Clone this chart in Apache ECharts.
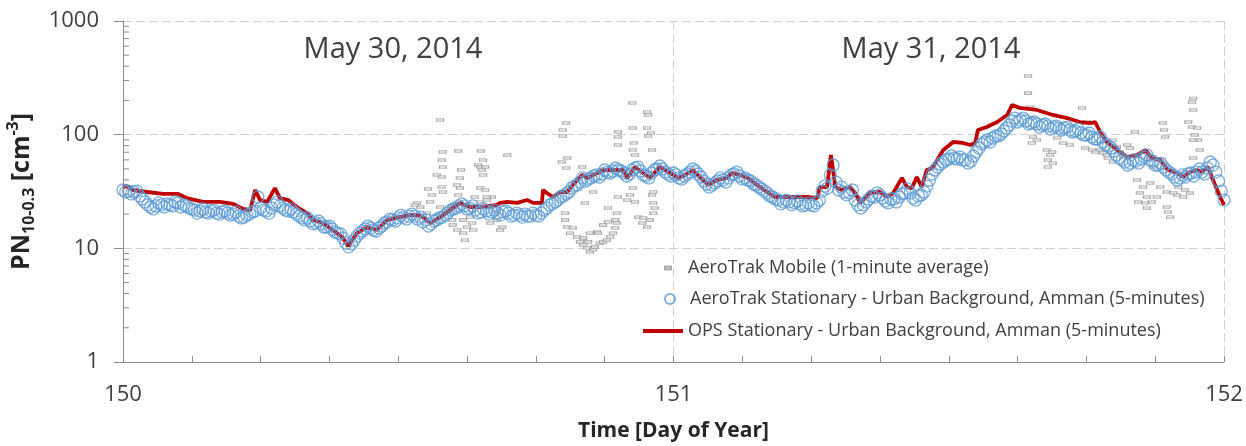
<!DOCTYPE html>
<html>
<head>
<meta charset="utf-8">
<script src="https://cdn.jsdelivr.net/npm/echarts@6/dist/echarts.min.js"></script>
<style>
html,body{margin:0;padding:0;background:#fff;}
#chart{width:1246px;height:446px;}
</style>
</head>
<body>
<div id="chart"></div>
<script>
// ---------- DATA ----------
const xTickLabels = ['150', '151', '152'];
const yTickLabels = ['1', '10', '100', '1000'];
const yMinorTickValues = [2,3,4,5,6,7,8,9,20,30,40,50,60,70,80,90,200,300,400,500,600,700,800,900];

const seriesNames = [
  'AeroTrak Mobile (1-minute average)',
  'AeroTrak Stationary - Urban Background, Amman (5-minutes)',
  'OPS Stationary - Urban Background, Amman (5-minutes)'
];
const dateLabels = ['May 30, 2014', 'May 31, 2014'];

// AeroTrak Stationary: readings every 0.01 day starting at day 150
const stationaryStartDay = 150;
const stationaryStepDay = 0.01;
const stationaryValues = [
32.6,31.9,31.3,28.9,25.6,23.1,23.6,24.1,24.6,23.6,
25.1,24.1,22.6,21.7,21.3,20.9,21.3,20.4,20.9,20.4,
20.0,19.2,18.8,20.0,21.3,22.6,21.3,22.6,25.6,22.6,
21.3,20.9,19.2,17.8,17.4,16.7,16.4,15.4,14.8,13.6,
12.3,10.3,11.8,13.6,14.8,15.1,14.2,15.7,17.1,17.8,
18.5,18.8,19.2,19.2,18.8,17.8,16.4,17.8,18.8,20.4,
22.2,23.6,23.6,22.6,21.7,20.9,21.3,20.9,20.4,20.9,
20.4,19.6,19.6,20.0,19.2,19.6,20.4,22.6,24.6,26.6,
28.9,31.3,35.3,38.3,39.1,41.6,44.2,45.1,46.9,47.9,
48.9,46.0,45.1,50.9,47.9,43.3,46.0,49.9,49.9,45.1,
46.0,41.6,43.3,46.9,47.9,42.4,36.8,36.1,39.1,39.9,
41.6,45.1,43.3,41.6,39.1,36.1,33.3,30.7,28.3,26.6,
25.6,25.6,25.1,24.6,24.1,24.1,25.1,31.9,33.9,54.1,
32.6,31.3,30.7,26.6,22.6,25.6,28.9,30.7,27.7,25.1,
27.2,28.3,30.7,30.7,26.6,29.5,35.3,45.1,51.9,57.5,
61.1,62.3,63.6,59.9,58.6,70.4,82.8,89.8,93.5,97.4,
107.7,121.6,140,134.6,131.9,126.6,124.1,121.6,119.1,116.7,
114.4,114.4,109.9,107.7,103.4,99.4,95.4,91.6,86.2,79.5,
71.8,62.3,57.5,56.3,58.6,61.1,66.2,58.6,54.1,51.9,
46.9,42.4,41.6,42.4,46.0,46.9,46.9,50.9,54.1,39.1,
26.6
];
// AeroTrak Stationary: readings in between, every 0.01 day starting at day 150.005
const stationaryHalfStartDay = 150.005;
const stationaryHalfValues = [
31.3,30.1,31.9,27.2,24.1,22.2,25.1,23.1,24.1,25.6,
23.1,23.6,22.2,20.4,22.2,20.4,21.7,20.0,21.3,19.6,
20.9,18.5,19.6,20.9,28.3,21.7,20.4,24.1,23.6,21.7,
22.2,20.0,18.5,18.5,16.4,17.4,15.4,15.7,13.9,13.4,
11.1,10.9,12.8,14.2,15.7,14.5,15.1,16.7,18.1,17.4,
19.6,18.1,20.0,18.1,17.1,15.7,17.4,18.5,19.6,21.7,
22.6,24.6,22.2,23.6,20.4,22.2,20.0,21.7,19.6,21.3,
19.2,20.4,18.8,19.2,20.4,19.2,21.7,24.1,25.6,28.3,
30.1,33.9,36.1,41.6,40.7,43.3,42.4,48.9,46.0,50.9,
47.9,43.3,48.9,51.9,44.2,41.6,48.9,53.0,46.9,43.3,
44.2,40.7,45.1,49.9,45.1,39.1,34.6,37.6,41.6,38.3,
44.2,46.9,40.7,39.9,36.8,34.6,31.9,28.9,27.2,24.6,
26.6,24.1,26.1,23.6,25.1,23.6,26.6,35.3,44.2,38.3,
34.6,29.5,32.6,24.1,24.1,27.2,28.3,29.5,26.1,27.2,
25.6,30.1,33.3,27.7,28.9,31.3,39.9,48.9,55.2,59.9,
64.9,61.1,59.9,56.3,64.9,76.3,86.2,86.2,97.4,101.4,
114.4,131.9,129.2,140,124.1,129.2,116.7,124.1,112.1,119.1,
109.9,116.7,105.5,112.1,99.4,103.4,91.6,95.4,81.1,76.3,
66.2,59.9,54.1,59.9,56.3,63.6,59.9,54.1,56.3,48.9,
45.1,39.9,44.2,45.1,43.3,49.9,45.1,57.5,46.9,31.9
];

// OPS Stationary
const opsDays = [
150.000,150.007,150.018,150.044,150.073,150.100,150.116,150.145,150.176,150.200,
150.218,150.231,150.240,150.249,150.262,150.276,150.285,150.300,150.316,150.334,
150.345,150.363,150.381,150.398,150.409,150.425,150.443,150.461,150.480,150.503,
150.521,150.540,150.558,150.576,150.594,150.612,150.630,150.649,150.679,150.685,
150.698,150.716,150.734,150.745,150.761,150.763,150.770,150.781,150.794,150.807,
150.817,150.834,150.843,150.854,150.872,150.890,150.908,150.916,150.930,150.945,
150.957,150.975,150.994,151.008,151.021,151.035,151.048,151.063,151.079,151.097,
151.106,151.121,151.135,151.152,151.170,151.184,151.199,151.217,151.243,151.261,
151.266,151.279,151.286,151.294,151.306,151.321,151.330,151.339,151.357,151.375,
151.388,151.399,151.415,151.424,151.433,151.442,151.451,151.460,151.470,151.479,
151.490,151.508,151.526,151.539,151.548,151.553,151.569,151.588,151.606,151.615,
151.629,151.660,151.689,151.715,151.738,151.757,151.766,151.775,151.787,151.806,
151.824,151.842,151.857,151.869,151.884,151.898,151.915,151.926,151.938,151.951,
151.960,151.971,151.980,151.993,152.000
];
const opsValues = [
34.6,35.3,32.6,31.3,30.1,30.1,27.7,25.6,25.6,24.6,
22.2,21.7,32.6,26.6,25.6,33.9,27.7,26.6,23.1,20.4,
17.8,16.7,14.5,12.6,10.5,13.6,15.4,14.5,17.8,18.8,
19.6,19.6,16.7,18.8,21.7,25.1,23.1,23.1,24.1,25.1,
25.6,25.1,26.6,25.1,25.1,32.6,30.7,28.3,31.3,31.3,
36.1,44.2,41.6,44.2,48.9,48.9,48.9,41.6,51.9,46.0,
41.6,51.9,46.0,41.6,44.2,48.9,42.4,36.1,39.9,41.6,
46.0,44.2,41.6,36.1,31.3,28.3,28.3,28.3,28.3,27.7,
34.6,34.6,66.2,34.6,32.6,34.6,30.7,25.1,30.7,31.3,
28.3,30.7,41.6,34.6,33.9,42.4,34.6,48.9,50.9,59.9,
73.3,86.2,84.5,81.1,84.5,109.9,116.7,129.2,149,182,
172,165,149,140,129.2,126.6,129.2,105.5,86.2,73.3,
63.6,66.2,73.3,62.3,59.9,48.9,46.0,42.4,46.9,48.9,
46.9,51.9,39.9,28.3,24.1
];

// AeroTrak Mobile (1-minute averages)
const mobileDays = [
150.576,150.581,150.609,150.650,150.579,150.581,150.614,150.654,150.645,150.652,
150.570,150.579,150.612,150.554,150.579,150.607,150.612,150.581,150.561,150.609,
150.649,150.658,150.534,150.540,150.558,150.576,150.598,150.639,150.649,150.661,
150.552,150.598,150.599,150.618,150.625,150.618,150.607,150.621,150.636,150.634,
150.630,150.679,150.685,150.667,150.698,150.649,150.654,150.530,150.670,150.676,
150.658,150.661,150.667,150.689,150.805,150.799,150.799,150.797,150.807,150.805,
150.834,150.839,150.854,150.803,150.803,150.807,150.817,150.812,150.825,150.830,
150.836,150.843,150.848,150.854,150.857,150.866,150.872,150.879,150.885,150.890,
150.894,150.897,150.894,150.881,150.872,150.861,150.848,150.863,150.845,150.836,
150.881,150.897,150.899,150.916,150.925,150.926,150.928,150.926,150.930,150.899,
150.899,150.899,150.952,150.954,150.952,150.954,150.959,150.961,150.926,150.921,
150.930,150.936,150.945,150.943,150.952,150.957,150.963,150.966,150.963,150.961,
150.963,
151.644,151.644,151.648,151.742,151.751,151.653,151.660,151.651,151.697,151.708,
151.678,151.684,151.680,151.680,151.689,151.688,151.760,151.775,151.780,151.798,
151.806,151.811,151.824,151.829,151.838,151.817,151.842,151.853,151.866,151.884,
151.847,151.860,151.844,151.857,151.869,151.878,151.896,151.860,151.889,151.891,
151.893,151.896,151.898,151.902,151.908,151.915,151.926,151.917,151.929,151.938,
151.944,151.942,151.944,151.935,151.942,151.951,151.947,151.953,151.944,151.956,
151.944,151.871,151.884,151.862,151.720,151.748,151.766,151.787,151.798,151.789
];
const mobileValues = [
134.6,70.4,71.8,71.8,59.9,51.9,48.9,59.9,54.1,48.9,
44.2,42.4,41.6,33.3,34.6,36.1,33.9,31.3,29.5,29.5,
33.9,32.6,25.1,23.1,25.6,23.1,23.1,28.3,25.6,26.6,
20.4,17.8,16.0,17.8,15.4,13.6,14.5,11.8,14.5,16.7,
18.8,17.8,14.5,23.1,66.2,51.9,44.2,24.1,28.3,20.9,
51.9,28.3,16.7,15.4,126.6,109.9,97.4,57.5,62.3,50.9,
51.9,25.1,31.3,20.4,17.8,15.4,15.1,13.6,12.6,11.4,
10.7,10.1,9.3,9.7,10.3,11.1,11.4,11.8,12.6,13.6,
15.1,16.7,17.8,17.1,16.0,13.9,13.6,13.6,11.4,12.3,
22.6,20.4,28.3,26.6,190,114.4,84.5,73.3,66.2,105.5,
95.4,81.1,158,149,114.4,97.4,103.4,73.3,33.9,29.5,
25.6,18.8,18.5,16.7,15.4,17.8,20.4,22.6,25.1,29.5,
31.3,
328,232,175,172,129.2,95.4,89.8,84.5,93.5,84.5,
73.3,66.2,59.9,51.9,56.3,70.4,73.3,73.3,69.0,89.8,
77.9,70.4,81.1,76.3,105.5,63.6,39.9,34.6,37.6,34.6,
30.7,28.3,25.6,25.1,25.6,28.3,31.3,22.6,126.6,109.9,
95.4,23.1,20.9,18.8,30.7,29.5,28.3,34.6,32.6,30.7,
208,194,165,129.2,116.7,114.4,99.4,89.8,89.8,73.3,
62.3,51.9,59.9,61.1,81.1,76.3,70.4,66.2,57.5,62.3
];

// ---------- CHART ----------
const FONT = '"Open Sans", "Liberation Sans", sans-serif';
const TXT = '#404040';
const AXIS = '#8c8c8c';
const GRID = '#d0d0d0';

const stationaryData = stationaryValues.map((v, i) => [stationaryStartDay + i * stationaryStepDay, v])
  .concat(stationaryHalfValues.map((v, i) => [stationaryHalfStartDay + i * stationaryStepDay, v]))
  .sort((a, b) => a[0] - b[0]);
const opsData = opsDays.map((d, i) => [d, opsValues[i]]);
const mobileData = mobileDays.map((d, i) => [d, mobileValues[i]]);
const minorTickData = yMinorTickValues.map(v => [150, v]);

const chart = echarts.init(document.getElementById('chart'), null, {renderer: 'canvas'});

const legendText = {fontFamily: FONT, fontSize: 18, color: TXT};

chart.setOption({
  animation: false,
  backgroundColor: '#ffffff',
  grid: {left: 123, right: 22, top: 21, bottom: 84, containLabel: false, outerBoundsMode: 'none'},
  xAxis: {
    type: 'value', min: 150, max: 152, interval: 1,
    axisLine: {show: true, lineStyle: {color: AXIS, width: 1}},
    axisTick: {show: true, inside: true, length: 6, lineStyle: {color: AXIS}},
    minorTick: {show: true, splitNumber: 8, length: 6, lineStyle: {color: AXIS}},
    splitLine: {show: true, lineStyle: {color: GRID, type: [9, 4], width: 1}},
    axisLabel: {
      fontFamily: FONT, fontSize: 22, color: TXT, margin: 22,
      formatter: v => xTickLabels[Math.round(v - 150)] || ''
    },
    name: 'Time [Day of Year]', nameLocation: 'middle', nameGap: 59,
    nameTextStyle: {fontFamily: FONT, fontSize: 21, fontWeight: 'bold', color: '#262626'}
  },
  yAxis: {
    type: 'log', logBase: 10, min: 1, max: 1000,
    axisLine: {show: true, lineStyle: {color: AXIS, width: 1}},
    axisTick: {show: true, inside: false, length: 9, lineStyle: {color: AXIS}},
    splitLine: {show: true, lineStyle: {color: GRID, type: [9, 4], width: 1}},
    axisLabel: {
      fontFamily: FONT, fontSize: 22, color: TXT, margin: 24,
      formatter: v => {
        const i = Math.round(Math.log10(v));
        return yTickLabels[i] !== undefined ? yTickLabels[i] : '';
      }
    },
    name: '{b|PN}{sub|10-0.3}{b| [cm}{sup|-3}{b|]}',
    nameLocation: 'middle', nameGap: 72, nameRotate: 90,
    nameTextStyle: {
      color: '#262626',
      rich: {
        b: {fontFamily: FONT, fontSize: 25, fontWeight: 'bold', color: '#262626', lineHeight: 32},
        sub: {fontFamily: FONT, fontSize: 16, fontWeight: 'bold', color: '#262626', lineHeight: 19, verticalAlign: 'bottom'},
        sup: {fontFamily: FONT, fontSize: 16, fontWeight: 'bold', color: '#262626', lineHeight: 19, verticalAlign: 'top'}
      }
    }
  },
  legend: [
    {
      data: [{name: seriesNames[0], icon: 'path://M0,0H6V3H0Z'}],
      left: 664, top: 259, padding: 0, itemWidth: 30, itemHeight: 3,
      textStyle: legendText, selectedMode: false
    },
    {
      data: [{name: seriesNames[1], icon: 'circle'}],
      left: 664, top: 290, padding: 0, itemWidth: 30, itemHeight: 10,
      textStyle: legendText, selectedMode: false
    },
    {
      data: [{name: seriesNames[2], icon: 'rect'}],
      left: 643, top: 322, padding: 0, itemWidth: 40, itemHeight: 4,
      textStyle: legendText, selectedMode: false
    }
  ],
  graphic: [
    {type: 'text', x: 393, y: 50, silent: true,
     style: {text: dateLabels[0], fontFamily: FONT, fontSize: 29, fill: TXT, align: 'center', verticalAlign: 'middle'}},
    {type: 'text', x: 931, y: 50, silent: true,
     style: {text: dateLabels[1], fontFamily: FONT, fontSize: 29, fill: TXT, align: 'center', verticalAlign: 'middle'}}
  ],
  series: [
    {
      name: seriesNames[0], type: 'scatter', data: mobileData,
      symbol: 'rect', symbolSize: [7, 3],
      itemStyle: {color: '#d4d4d4', borderColor: '#9a9a9a', borderWidth: 0.8},
      silent: true, z: 2
    },
    {
      name: seriesNames[2], type: 'line', data: opsData,
      symbol: 'none', smooth: false,
      lineStyle: {color: '#c00000', width: 3.8},
      itemStyle: {color: '#c00000'},
      silent: true, z: 3
    },
    {
      name: seriesNames[1], type: 'scatter', data: stationaryData,
      symbol: 'circle', symbolSize: 12,
      itemStyle: {color: 'rgba(0,0,0,0)', borderColor: '#5b9bd5', borderWidth: 1.3},
      silent: true, z: 4
    },
    {
      name: 'yMinorTicks', type: 'custom', data: minorTickData, silent: true, clip: false, z: 5,
      renderItem: function (params, api) {
        const p = api.coord([api.value(0), api.value(1)]);
        return {type: 'line', shape: {x1: p[0], y1: p[1], x2: p[0] + 6, y2: p[1]},
                style: {stroke: AXIS, lineWidth: 1}};
      }
    }
  ]
});
</script>
</body>
</html>
